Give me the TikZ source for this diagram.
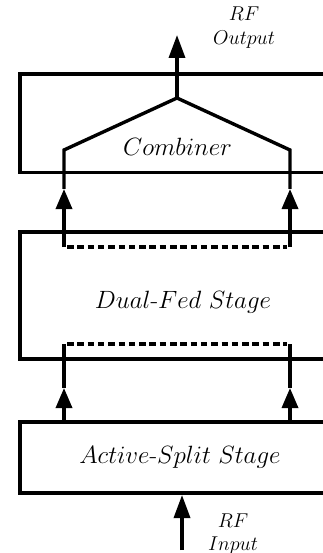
\RequirePackage{fix-cm}
\documentclass[tikz,border=0pt]{standalone}
\usetikzlibrary{arrows.meta}
\begin{document}
\begin{tikzpicture}[x=1pt,y=-1pt,line width=3.4pt,
  tip/.style={-{Triangle[length=20pt,width=16pt]}},
  bigtip/.style={-{Triangle[length=23pt,width=16pt]}},
  dotline/.style={line width=3.4pt,dash pattern=on 6.5pt off 3.8pt},
  stagelbl/.style={anchor=base,inner sep=0pt,font=\fontsize{25}{30}\selectfont},
  iolbl/.style={anchor=base,inner sep=0pt,font=\fontsize{20}{24}\selectfont}]
\useasboundingbox (0,0) rectangle (323,553);
\clip (0,0) rectangle (323,553);

% stage outlines (open to the right)
\draw (340,74) -- (20,74) -- (20,172.5) -- (340,172.5);
\draw (340,232) -- (20,232) -- (20,359) -- (340,359);
\draw (340,422) -- (20,422) -- (20,493) -- (340,493);

% combiner branches
\coordinate (peak) at (177,98);
\coordinate (lbend) at (64,150);
\coordinate (rbend) at (290,150);
\coordinate (ltip) at (64,189);
\coordinate (rtip) at (290,189);
\coordinate (lfoot) at (64,247);
\coordinate (rfoot) at (290,247);
\draw (ltip) -- (lbend) -- (peak) -- (rbend) -- (rtip);
\draw[tip] (lfoot) -- (ltip);
\draw[tip] (rfoot) -- (rtip);
\draw[dotline] (67,247) -- (287,247);

% split-stage outputs
\coordinate (lbase) at (64,422);
\coordinate (rbase) at (290,422);
\coordinate (ltip2) at (64,388);
\coordinate (rtip2) at (290,388);
\coordinate (ltop) at (64,344);
\coordinate (rtop) at (290,344);
\draw[tip] (lbase) -- (ltip2);
\draw[tip] (rbase) -- (rtip2);
\draw (ltip2) -- (ltop);
\draw (rtip2) -- (rtop);
\draw[dotline] (67,344) -- (287,344);

% input and output
\coordinate (outtip) at (177,35);
\draw[bigtip] (peak) -- (outtip);
\coordinate (insrc) at (182,550);
\coordinate (intip) at (182,495);
\draw[bigtip] (insrc) -- (intip);

% labels
\node[stagelbl] (comb) at (177.5,156) {$Combiner$};
\node[stagelbl] (dual) at (183,308) {$Dual$-$Fed\ Stage$};
\node[stagelbl] (split) at (180,463) {$Active$-$Split\ Stage$};
\node[iolbl] (rfo1) at (244,21) {$RF$};
\node[iolbl] (rfo2) at (244,45) {$Output$};
\node[iolbl] (rfi1) at (233,527) {$RF$};
\node[iolbl] (rfi2) at (233,550) {$Input$};
\end{tikzpicture}
\end{document}
